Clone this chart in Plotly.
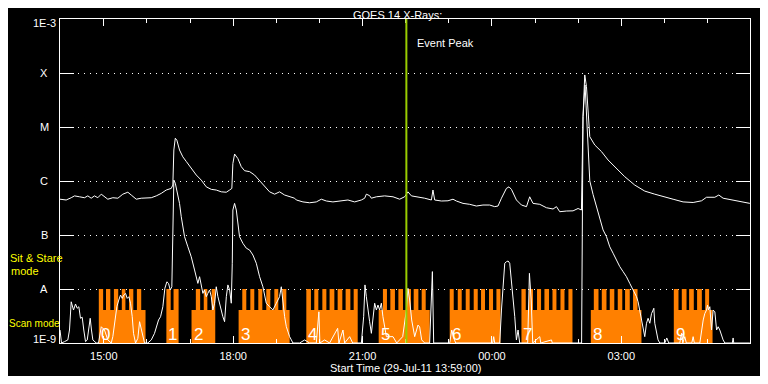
import math
import pandas as pd
import plotly.graph_objects as go

# ---------------- data ----------------
START = pd.Timestamp("2011-07-29 13:59:00")
END = START + pd.Timedelta(hours=16)

# GOES 14 long channel (1-8 A): minutes after start, flux W/m^2
long_t = [0, 8.6, 15.6, 20.2, 27.1, 34.1, 38.7, 43.4, 48.0, 52.6,
          57.4, 61.9, 66.5, 73.5, 80.5, 87.4, 94.4, 99.1, 106.1, 113.0,
          120.0, 127.0, 133.9, 140.9, 147.8, 154.8, 157.0, 158.4, 160.4, 162.6,
          166.3, 170.9, 175.7, 182.6, 189.6, 196.5, 203.5, 210.5, 217.4, 224.4,
          231.4, 236.0, 239.1, 240.5, 242.9, 247.5, 252.2, 256.8, 263.8, 270.7,
          277.7, 284.7, 291.6, 298.6, 305.5, 312.5, 319.5, 326.4, 328.8, 338.0,
          347.3, 356.6, 363.6, 370.6, 379.7, 389.1, 400.6, 409.9, 419.3, 423.9,
          426.2, 430.8, 433.2, 440.2, 451.7, 463.3, 472.6, 479.5, 484.1, 488.9,
          498.1, 507.4, 516.7, 518.9, 521.3, 530.6, 539.8, 546.8, 551.5, 560.7,
          570.0, 579.3, 588.5, 597.8, 604.8, 609.4, 614.2, 621.1, 624.7, 628.1,
          635.0, 642.0, 649.0, 653.5, 658.1, 667.5, 676.8, 686.0, 690.7, 695.3,
          704.6, 713.8, 720.8, 725.5, 727.7, 730.1, 732.5, 734.7, 737.1, 744.0,
          753.4, 762.5, 774.2, 785.8, 799.7, 813.6, 827.5, 839.1, 853.0, 866.9,
          880.9, 892.6, 899.5, 911.1, 916.6, 922.6, 936.5, 950.5, 959.8]
long_flux = [4.6e-7, 4.45e-7, 4.9e-7, 5.3e-7, 5.1e-7, 4.9e-7, 5.3e-7, 4.8e-7, 5.3e-7, 4.9e-7,
             5.7e-7, 5.1e-7, 4.6e-7, 4.9e-7, 4.8e-7, 5.7e-7, 6.2e-7, 5.5e-7, 4.6e-7, 4.8e-7,
             4.8e-7, 4.9e-7, 5.3e-7, 5.9e-7, 6.8e-7, 7.3e-7, 8.4e-7, 3.75e-6, 6.2e-6, 5.7e-6,
             3.75e-6, 2.8e-6, 2.3e-6, 1.72e-6, 1.29e-6, 1.04e-6, 7.8e-7, 7.0e-7, 6.8e-7, 6.3e-7,
             6.2e-7, 6.8e-7, 7.3e-7, 2.1e-6, 3.16e-6, 2.6e-6, 1.84e-6, 1.55e-6, 1.49e-6, 1.29e-6,
             1.01e-6, 7.8e-7, 6.3e-7, 5.7e-7, 6.3e-7, 5.5e-7, 5.1e-7, 4.8e-7, 4.45e-7, 4.1e-7,
             3.95e-7, 4.1e-7, 4.6e-7, 4.26e-7, 4.1e-7, 4.26e-7, 4.45e-7, 4.1e-7, 4.45e-7, 4.8e-7,
             5.7e-7, 5.35e-7, 4.8e-7, 5.1e-7, 5.3e-7, 5.1e-7, 4.6e-7, 5.1e-7, 6.3e-7, 5.3e-7,
             5.1e-7, 4.8e-7, 4.45e-7, 6.8e-7, 4.45e-7, 4.26e-7, 4.3e-7, 4.6e-7, 4.26e-7, 3.85e-7,
             3.7e-7, 3.44e-7, 3.59e-7, 3.59e-7, 3.35e-7, 3.44e-7, 4.8e-7, 7.3e-7, 7.8e-7, 7.0e-7,
             4.45e-7, 3.59e-7, 3.35e-7, 5.1e-7, 3.85e-7, 3.7e-7, 3.2e-7, 3.03e-7, 3.35e-7, 2.7e-7,
             2.78e-7, 2.8e-7, 3.1e-7, 2.9e-7, 1.55e-5, 9.2e-5, 5.6e-5, 1.79e-5, 6.6e-6, 4.64e-6,
             3.5e-6, 2.45e-6, 1.72e-6, 1.2e-6, 8.4e-7, 6.5e-7, 5.7e-7, 5.1e-7, 4.6e-7, 4.1e-7,
             4.0e-7, 4.3e-7, 5.0e-7, 5.0e-7, 5.5e-7, 4.8e-7, 4.45e-7, 4.1e-7, 3.85e-7]

# GOES 14 short channel (0.5-4 A): minutes after start, flux W/m^2
short_t = [0, 2.1, 6.3, 10.9, 13.2, 15.6, 18.8, 21.6, 23.9, 26.2,
           28.5, 30.9, 33.1, 35.5, 37.9, 40.1, 42.0, 43.8, 45.7, 50.4,
           53.6, 57.4, 61.9, 66.5, 71.3, 73.5, 75.9, 79.1, 81.8, 84.2,
           86.6, 88.8, 91.2, 93.5, 95.8, 98.1, 100.5, 102.3, 105.1, 108.3,
           110.7, 113.0, 115.3, 117.6, 122.2, 127.0, 131.5, 133.9, 137.1, 139.9,
           143.1, 145.9, 148.7, 151.0, 153.4, 155.6, 157.6, 158.4, 160.4, 162.6,
           166.3, 168.7, 173.3, 177.9, 182.6, 187.2, 191.8, 194.2, 196.6, 198.8,
           201.1, 203.5, 205.7, 208.1, 210.5, 212.7, 215.1, 217.4, 219.7, 222.0,
           224.4, 226.6, 229.0, 231.4, 233.6, 236.0, 238.3, 239.7, 240.5, 242.9,
           245.3, 249.8, 254.5, 259.2, 263.8, 268.4, 273.1, 277.7, 282.3, 287.0,
           291.6, 296.2, 301.0, 305.5, 307.9, 310.1, 312.5, 314.9, 319.5, 324.1,
           333.4, 340.4, 347.3, 356.6, 358.9, 360.2, 361.6, 368.2, 375.1, 384.5,
           386.3, 388.1, 393.7, 396.0, 403.0, 407.2, 419.3, 422.5, 424.3, 426.2,
           428.5, 430.8, 433.2, 435.4, 437.8, 440.2, 442.4, 444.7, 447.1, 449.3,
           451.7, 454.1, 458.7, 463.3, 468.4, 476.8, 481.9, 484.1, 486.5, 489.3,
           493.5, 498.1, 500.4, 503.2, 507.4, 514.3, 518.1, 519.9, 542.2, 545.0,
           547.8, 550.6, 602.0, 603.4, 604.8, 611.8, 614.2, 616.4, 618.8, 621.1,
           623.4, 625.7, 628.1, 630.3, 632.7, 635.0, 637.3, 639.6, 650.7, 653.1,
           655.6, 657.7, 667.5, 668.9, 683.8, 684.9, 725.7, 727.7, 729.1, 730.5,
           731.9, 733.5, 734.7, 737.1, 741.7, 746.4, 751.0, 755.6, 760.3, 764.9,
           769.5, 774.2, 778.8, 783.4, 788.1, 792.7, 797.3, 799.7, 802.1, 804.3,
           806.6, 809.0, 811.3, 813.6, 816.0, 818.2, 820.6, 823.0, 825.2, 826.2,
           827.5, 829.9, 832.1, 834.5, 841.5, 844.2, 847.0, 862.3, 864.7, 866.5,
           869.3, 871.4, 879.0, 880.9, 882.5, 890.2, 892.6, 894.9, 897.1, 899.5,
           900.9, 902.3, 904.1, 906.5, 908.7, 911.1, 913.5, 915.7, 918.0, 920.4,
           922.6, 925.0, 935.4, 936.5, 937.4, 959.8]
short_flux = [1.74e-9, 1e-9, 1.06e-9, 1.14e-9, 1.74e-9, 5.8e-9, 4.08e-9, 5.27e-9, 4.4e-9, 4.7e-9,
              2.87e-9, 3.0e-9, 1.74e-9, 1.06e-9, 1.14e-9, 1.74e-9, 2.87e-9, 1.74e-9, 1.14e-9, 1e-9,
              1e-9, 2.0e-9, 1.74e-9, 1.14e-9, 1e-9, 1.31e-9, 2.32e-9, 4.7e-9, 6.25e-9, 7.74e-9,
              6.7e-9, 7.74e-9, 8.3e-9, 6.7e-9, 7.2e-9, 5.45e-9, 3.07e-9, 1.51e-9, 1e-9, 1.22e-9,
              2.48e-9, 1.87e-9, 1.31e-9, 1e-9, 1e-9, 1.14e-9, 1.51e-9, 2.0e-9, 2.67e-9, 3.07e-9,
              4.7e-9, 1.03e-8, 1.36e-8, 1.27e-8, 9.6e-9, 1.1e-8, 7.8e-7, 1.04e-6, 9.1e-7, 6.8e-7,
              3.85e-7, 2.18e-7, 9.3e-8, 6.05e-8, 3.95e-8, 2.25e-8, 1.27e-8, 1.69e-8, 1.1e-8, 8.3e-9,
              9.6e-9, 7.2e-9, 8.3e-9, 9.6e-9, 7.2e-9, 4.08e-9, 5.45e-9, 1.1e-8, 7.2e-9, 5.45e-9,
              3.78e-9, 3.07e-9, 2.48e-9, 7.2e-9, 1.19e-8, 9.6e-9, 5.45e-9, 3.0e-8, 2.9e-7, 3.85e-7,
              2.9e-7, 9.3e-8, 7.0e-8, 5.7e-8, 5.27e-8, 4.26e-8, 3.0e-8, 1.69e-8, 1.1e-8, 5.45e-9,
              4.7e-9, 4.08e-9, 5.45e-9, 7.2e-9, 1.1e-8, 5.45e-9, 3.07e-9, 2.0e-9, 1.31e-9, 1e-9,
              1e-9, 1.14e-9, 1e-9, 1e-9, 2.67e-9, 3.78e-9, 1e-9, 1.14e-9, 1e-9, 1.74e-9,
              1.87e-9, 1e-9, 1.74e-9, 1e-9, 1.31e-9, 1e-9, 1e-9, 3.07e-9, 1.19e-8, 7.2e-9,
              3.78e-9, 2.48e-9, 1.51e-9, 3.07e-9, 5.45e-9, 4.08e-9, 5.05e-9, 4.08e-9, 5.45e-9, 3.07e-9,
              2.0e-9, 1.31e-9, 1.31e-9, 1.31e-9, 1e-9, 1.31e-9, 4.08e-9, 1.03e-8, 6.25e-9, 2.67e-9,
              1.31e-9, 2.15e-9, 1.98e-9, 1.14e-9, 1e-9, 1e-9, 2.1e-8, 1e-9, 1e-9, 1.74e-9,
              1.24e-9, 1e-9, 1e-9, 1.31e-9, 1e-9, 1e-9, 4.08e-9, 1.27e-8, 3.0e-8, 3.2e-8,
              3.3e-8, 3.0e-8, 1.47e-8, 7.2e-9, 3.07e-9, 1.14e-9, 1.74e-9, 1e-9, 1e-9, 1.95e-8,
              6.25e-9, 1e-9, 1.31e-9, 1e-9, 1.14e-9, 1e-9, 1e-9, 1.55e-5, 3.16e-5, 5.99e-5,
              2.55e-5, 8.8e-6, 4.64e-6, 1e-6, 5.6e-7, 3.35e-7, 1.9e-7, 1.24e-7, 9.3e-8, 6.05e-8,
              4.6e-8, 3.44e-8, 2.6e-8, 2.1e-8, 1.69e-8, 1.27e-8, 9.6e-9, 8.3e-9, 7.2e-9, 5.8e-9,
              4.08e-9, 2.67e-9, 1.74e-9, 1.31e-9, 2.32e-9, 2.87e-9, 2.32e-9, 3.5e-9, 4.08e-9, 4.4e-9,
              2.32e-9, 1.51e-9, 1.14e-9, 1e-9, 1e-9, 1.24e-9, 1e-9, 1e-9, 1.51e-9, 1e-9,
              1.31e-9, 1e-9, 1e-9, 1.31e-9, 1e-9, 1e-9, 1.74e-9, 2.67e-9, 3.5e-9, 4.08e-9,
              5.05e-9, 4.08e-9, 4.7e-9, 1.74e-9, 4.08e-9, 3.78e-9, 1.74e-9, 2.0e-9, 1.74e-9, 1.31e-9,
              1.14e-9, 1e-9, 1e-9, 1.24e-9, 1e-9, 1e-9]

# Observing mode timeline: minutes after start, mode code from that time on
# (0 = no observation, 1 = scan mode, 2 = sit & stare)
mode_t = [0, 54, 60, 64, 70, 75, 81, 86, 91, 96, 102, 107, 113, 119,
          148, 154, 158, 165,
          183, 189, 195, 200, 205, 211, 216,
          248.5, 253.6, 259.2, 264.8, 270.3, 275.9, 281.5, 287.0, 292.6, 298.2, 303.7, 309.3, 314.9, 319.5,
          342.7, 349.1, 353.8, 359.4, 365.0, 370.6, 375.1, 381.7, 386.3, 392.8, 397.4, 404.0, 408.6, 414.2,
          443.4, 449.3, 454.9, 459.6, 466.0, 470.8, 477.2, 481.9, 488.3, 492.1, 498.6, 503.2, 508.8, 514.4,
          542.2, 547.8, 553.4, 558.9, 564.5, 570.0, 575.6, 581.2, 585.8, 591.3, 596.9, 602.5, 607.2, 612.8,
          642.0, 648.0, 652.6, 658.1, 663.7, 669.3, 674.0, 680.4, 685.2, 690.7, 696.3, 701.9, 707.4, 713.0,
          738.5, 742.7, 749.2, 753.8, 760.3, 764.9, 771.2, 776.0, 782.3, 786.2, 792.7, 797.3, 803.5, 809.0,
          854.0, 860.5, 865.1, 871.7, 875.3, 881.8, 886.4, 893.0, 897.6, 903.1, 907.9, 960]
mode_code = [0, 2, 1, 2, 1, 2, 1, 2, 1, 2, 1, 2, 1, 0,
             2, 1, 2, 0,
             1, 2, 1, 2, 1, 2, 0,
             1, 2, 1, 2, 1, 2, 1, 2, 1, 2, 1, 2, 1, 0,
             2, 1, 2, 1, 2, 1, 2, 1, 2, 1, 2, 1, 2, 0,
             1, 2, 1, 2, 1, 2, 1, 2, 1, 2, 1, 2, 1, 0,
             2, 1, 2, 1, 2, 1, 2, 1, 2, 1, 2, 1, 2, 0,
             2, 1, 2, 1, 2, 1, 2, 1, 2, 1, 2, 1, 2, 0,
             1, 2, 1, 2, 1, 2, 1, 2, 1, 2, 1, 2, 1, 0,
             2, 1, 2, 1, 2, 1, 2, 1, 2, 1, 0, 0]

study_label = ["0", "1", "2", "3", "4", "5", "6", "7", "8", "9"]
study_start = [54, 148, 183, 248.5, 342.7, 443.4, 542.2, 642.0, 738.5, 854.0]

event_peak_t = 481.9

x_tick_vals = ["2011-07-29 15:00", "2011-07-29 18:00", "2011-07-29 21:00",
               "2011-07-30 00:00", "2011-07-30 03:00"]
level_vals = [1e-9, 1e-8, 1e-7, 1e-6, 1e-5, 1e-4, 1e-3]
level_text = ["1E-9", "A", "B", "C", "M", "X", "1E-3"]

for a, b in ((long_t, long_flux), (short_t, short_flux), (mode_t, mode_code)):
    if len(a) != len(b):
        raise ValueError("length mismatch %d %d" % (len(a), len(b)))

# ---------------- style ----------------
FONT = "Liberation Sans"
ORANGE = "#ff8000"
GREEN = "#99cc00"
YELLOW = "#ffff00"
MODE_LEVEL = {0: 1e-10, 1: 4.1e-9, 2: 1.0e-8}

# page has an 8px body margin: figure sits at (8, 8) inside the 768x384 window
OFF = 8
W, H = 768 - 2 * OFF, 384 - 2 * OFF
PX0, PX1, PY0, PY1 = 60, 750, 19, 343          # plot box in window pixels
L, R = PX0 - OFF, W - (PX1 - OFF)
T, B = PY0 - OFF, H - (PY1 - OFF)
PW, PH = PX1 - PX0, PY1 - PY0


def tt(mins):
    return START + pd.to_timedelta(pd.Series(mins, dtype=float), unit="min")


def px(xp):
    return (xp - PX0) / PW


def py(yp):
    return (PY1 - yp) / PH


fig = go.Figure()

# observing mode fill
fig.add_trace(go.Scatter(x=[START, END], y=[1e-10, 1e-10], mode="lines",
                         line=dict(width=0, color=ORANGE), hoverinfo="skip",
                         showlegend=False))
fig.add_trace(go.Scatter(x=tt(mode_t), y=[MODE_LEVEL[c] for c in mode_code],
                         mode="lines", line=dict(width=0, color=ORANGE, shape="hv"),
                         fill="tonexty", fillcolor=ORANGE, hoverinfo="skip",
                         showlegend=False))

fig.add_trace(go.Scatter(x=tt(long_t), y=long_flux, mode="lines",
                         line=dict(color="white", width=1), showlegend=False))
fig.add_trace(go.Scatter(x=tt(short_t), y=short_flux, mode="lines",
                         line=dict(color="white", width=1), showlegend=False))

ev = START + pd.Timedelta(minutes=event_peak_t)
fig.add_shape(type="line", x0=ev, x1=ev, xref="x", y0=0, y1=1, yref="paper",
              line=dict(color=GREEN, width=2))

ann = []
ann.append(dict(x=ev, xref="x", y=py(43), yref="paper", text="Event Peak",
                showarrow=False, xanchor="left", yanchor="middle", xshift=9,
                font=dict(family=FONT, size=11, color="white")))
ann.append(dict(x=px(397), xref="paper", y=py(8), yref="paper", text="GOES 14 X-Rays:",
                showarrow=False, xanchor="center", yanchor="top", borderpad=0,
                font=dict(family=FONT, size=11, color="white")))
ann.append(dict(x=px(405), xref="paper", y=py(367.5), yref="paper",
                text="Start Time (29-Jul-11 13:59:00)",
                showarrow=False, xanchor="center", yanchor="middle",
                font=dict(family=FONT, size=11, color="white")))
shifts = {"1E-9": 4, "1E-3": -4}
for v, t in zip(level_vals, level_text):
    ann.append(dict(x=px(44), xref="paper", y=math.log10(v), yref="y", text=t,
                    showarrow=False, xanchor="center", yanchor="middle",
                    yshift=shifts.get(t, 0),
                    font=dict(family=FONT, size=11, color="white")))
for text, cx, cy, fs in (("Sit & Stare", 36, 258, 11), ("mode", 25, 271, 11),
                         ("Scan mode", 34, 323, 10)):
    ann.append(dict(x=px(cx), xref="paper", y=py(cy), yref="paper", text=text,
                    showarrow=False, xanchor="center", yanchor="middle",
                    font=dict(family=FONT, size=fs, color=YELLOW)))
for lab, st in zip(study_label, study_start):
    ann.append(dict(x=START + pd.Timedelta(minutes=st), xref="x", y=py(334), yref="paper",
                    text=lab, showarrow=False, xanchor="left", yanchor="middle", xshift=0,
                    font=dict(family=FONT, size=17, color="white")))

fig.update_layout(
    width=W, height=H,
    margin=dict(l=L, r=R, t=T, b=B, pad=0),
    paper_bgcolor="black", plot_bgcolor="black",
    showlegend=False,
    annotations=ann,
    xaxis=dict(type="date", range=[START, END], tickmode="array",
               tickvals=x_tick_vals, tickformat="%H:%M",
               ticks="inside", ticklen=7, tickwidth=1, tickcolor="white",
               ticklabelstandoff=3,
               minor=dict(dtick=3600000, ticks="inside", ticklen=4, tickcolor="white",
                          tickwidth=1, showgrid=False),
               showline=True, linecolor="white", linewidth=1, mirror="allticks",
               showgrid=False, zeroline=False,
               tickfont=dict(family=FONT, size=11, color="white")),
    yaxis=dict(type="log", range=[-9, -3], tickmode="array", tickvals=level_vals,
               showticklabels=False,
               ticks="inside", ticklen=14, tickwidth=1, tickcolor="white",
               showline=True, linecolor="white", linewidth=1, mirror="allticks",
               showgrid=True, gridcolor="white", gridwidth=1, griddash="1px,5px",
               zeroline=False),
)

fig.write_html("out.html")
